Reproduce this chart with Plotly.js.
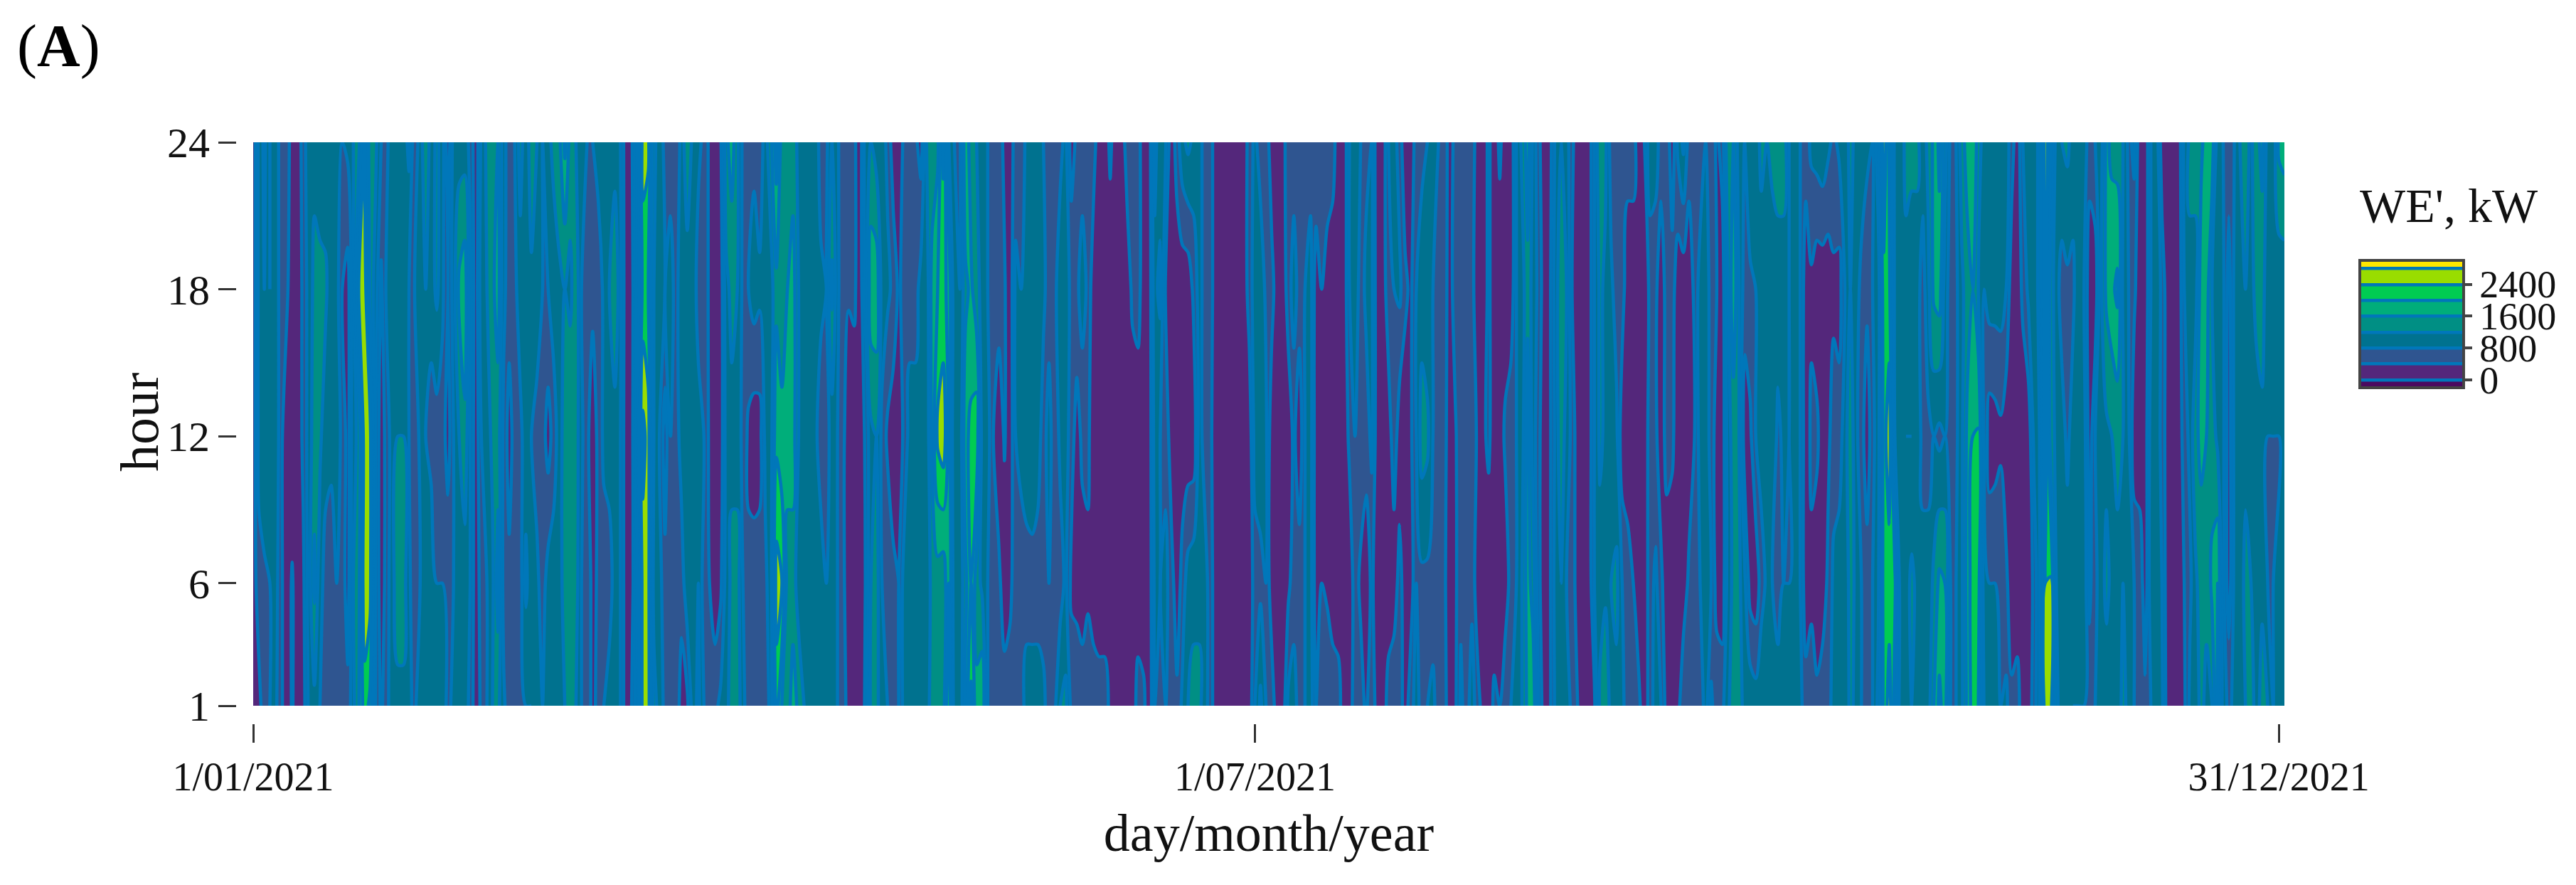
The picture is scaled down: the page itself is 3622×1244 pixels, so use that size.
<!DOCTYPE html>
<html><head><meta charset="utf-8">
<script src="https://cdn.plot.ly/plotly-3.0.1.min.js"></script>
<style>html,body{margin:0;padding:0;background:#fff}</style></head>
<body><div id="chart" style="width:3622px;height:1244px"></div>
<script>
const hours=[24,18,12,6,1];
const tickDays=[0,180,364];
const tickDates=["1/01/2021","1/07/2021","31/12/2021"];
const hourTicks=[1,6,12,18,24];
const levelColors=["#4b0a5f","#54277b","#2f5590","#00728f","#008f84","#00ae7a","#00cc52","#99dd00","#ffe600"];
// each entry: WE' (kW) of one day at hours 24,18,12,6,1
const winterA=[[100,100,100,100,100],[900,900,900,700,200],[1300,1200,1200,700,700],[800,800,900,800,800],[1200,1200,1200,1000,900],[500,500,500,500,500],[700,500,100,100,100],[100,100,100,450,450],[100,100,100,100,100],[600,500,500,300,200],[1100,1000,1000,1000,900],[1100,1300,1400,1700,1100],[1000,1300,1300,900,800],[900,1300,900,700,600],[1200,900,900,600,600],[1200,1000,1000,800,600],[800,400,700,600,500],[900,200,200,200,500],[1200,1100,1100,1200,1100],[1500,2500,1300,1500,1600],[2450,2700,2700,2750,2200],[1300,1500,2600,2600,1900],[1300,1000,800,800,800],[800,300,100,100,300],[700,900,600,600,700],[1100,1100,1000,1100,1000],[1200,1100,1200,1400,1100],[1000,1000,1200,1400,1100],[1300,800,800,900,900],[500,800,500,500,700],[1000,1200,900,800,1100],[1500,1200,800,1100,1100],[1000,1000,600,1200,1100],[1300,1300,600,800,900],[1000,900,600,800,1000],[100,400,200,700,700],[1000,1000,800,800,900],[1000,1700,1200,1000,1100],[1000,1900,1500,1000,1000],[700,900,800,800,700],[100,100,100,100,100],[900,1100,800,600,500],[1300,1200,1000,800,800],[1400,1500,1300,1100,1200],[1600,1800,1400,1800,1300],[1000,900,700,600,900],[500,600,200,500,500],[800,700,600,800,600],[1400,1000,700,600,700],[900,1200,1000,1300,800],[1500,1100,800,900,800],[1200,1100,600,900,900],[800,800,600,600,800]];
const winterB=[[1100,800,200,1000,1000],[1300,1000,600,1000,1100],[1500,1100,1000,1100,1000],[2100,1200,1400,1300,1200],[1400,1100,1500,1400,1500],[1200,1500,1400,1400,1200],[900,800,900,800,800],[800,700,500,800,600],[800,500,150,200,300],[1000,500,500,500,500],[900,900,900,600,800],[1200,1200,1000,600,1000],[1000,1600,1000,1000,900],[800,900,800,800,800],[100,100,100,100,100],[300,100,100,100,400],[1200,1300,1500,1200,1100],[2600,2100,2950,2600,2600],[2500,2000,2600,2600,2600],[1300,1200,1200,1000,1400],[1000,1000,800,1000,1000],[700,800,200,500,700],[700,900,800,700,800],[400,700,600,500,700],[1000,1000,1000,600,150],[1500,1000,1000,1100,300],[1100,1100,1000,1000,1000],[900,600,1000,1200,1300],[700,700,800,600,800],[300,300,300,400,800],[100,100,100,100,700],[300,100,100,300,900],[1500,1100,1000,1000,1000],[1800,1300,1100,1300,1500],[1300,1200,1000,1400,1500],[700,700,700,800,900],[500,800,300,500,600],[700,1000,150,600,600],[500,900,200,600,600],[1000,1000,900,700,600],[1500,1000,1000,1000,900],[2200,1500,1900,2600,2200],[1400,1400,1700,2450,1600],[1400,1600,1800,1400,1400],[1400,1800,1800,1400,1800],[1100,1200,1200,1000,1500],[900,1000,1000,1100,1200],[1000,1200,1000,1000,1000],[1100,1000,900,1200,1000],[600,900,600,1000,1000],[700,800,600,800,900],[1200,1700,1000,1000,1000]];
const spring=[[900,900,800,800,800],[400,500,500,500,500],[450,450,100,100,300],[500,500,100,100,100],[100,100,100,100,100],[1000,900,450,400,450],[1200,1900,1100,1200,1300],[1000,1900,1200,1400,1300],[1000,1000,700,800,1000],[700,900,300,800,800],[150,700,150,500,500],[150,300,150,400,400],[500,600,500,1000,1000],[500,600,1000,1000,1000],[500,600,1000,1000,1000],[200,1000,900,900,1000],[1200,900,900,1000,1100],[1300,1800,1700,1300,1300],[1500,2000,2500,1400,1300],[2500,2100,2700,1300,1400],[1200,1900,1900,2000,2400],[800,900,800,900,900],[700,800,900,900,900],[2000,1500,1900,1500,1700],[1300,1700,2100,2000,2500],[1200,1300,2300,1400,1700],[1100,1100,1000,1100,2000],[800,800,1000,800,800],[600,600,400,600,600],[600,600,100,500,600],[300,450,450,150,600],[150,100,100,300,600],[600,900,800,600,600],[600,800,1000,500,600],[900,900,1100,600,1000],[1100,1000,1200,600,1000],[1000,1000,1000,600,1000],[800,900,600,600,900],[600,600,1000,800,600],[700,700,500,600,700],[700,1000,900,600,1200],[900,1000,1000,900,1300],[200,700,600,300,700],[500,700,200,300,600],[600,1000,500,200,600],[500,700,500,300,700],[600,100,100,100,700],[100,100,100,100,600],[100,100,100,100,600],[500,100,100,100,300],[100,100,100,100,200],[100,100,100,100,100],[600,100,100,100,100]];
const summerA=[[600,500,100,100,100],[600,600,100,100,600],[100,100,100,100,500],[100,100,100,100,100],[1300,1100,1000,900,800],[1000,1300,800,800,800],[800,300,700,900,800],[100,100,100,600,800],[600,100,100,100,500],[1100,100,100,600,900],[1300,100,100,1000,1200],[1100,500,100,1100,1300],[1000,1000,1000,1100,1300],[600,600,600,1000,1000],[600,600,500,600,600],[100,100,100,100,100],[100,100,100,100,100],[100,100,100,100,100],[100,100,100,100,100],[100,100,100,100,100],[100,100,100,100,100],[600,600,100,100,100],[900,1000,1000,600,800],[600,1100,1000,700,1300],[700,700,900,800,800],[100,600,100,100,700],[100,100,100,100,100],[100,100,100,100,100],[800,600,100,300,900],[600,1000,500,600,1000],[700,600,100,600,600],[800,800,800,800,800],[600,1000,1000,1000,1000],[800,100,100,100,400],[600,400,100,400,600],[800,100,100,300,800],[600,100,100,200,600],[100,100,100,100,600],[100,100,100,100,100],[800,800,500,100,100],[1100,1100,800,600,700],[800,600,700,300,600],[700,900,600,100,300],[800,900,900,500,800],[100,100,100,100,100],[100,100,100,100,100],[800,700,100,100,600],[1000,800,700,100,800],[600,900,100,600,700],[100,500,100,100,100],[100,300,300,100,700],[600,800,800,800,900]];
const summerB=[[700,1000,1400,700,700],[800,900,1300,700,800],[1000,800,800,600,900],[800,800,800,800,600],[800,700,600,500,600],[100,100,100,100,100],[600,700,300,300,300],[800,800,800,700,900],[600,500,700,600,600],[700,450,800,700,1000],[100,300,300,100,600],[100,100,300,100,200],[500,500,500,100,100],[100,100,100,100,500],[500,100,100,100,400],[100,100,500,100,800],[100,100,700,600,800],[800,800,800,800,1000],[1300,1000,1000,1200,1200],[1800,1500,1800,1800,1700],[1100,1000,1000,1400,1900],[500,700,500,500,800],[100,100,100,100,100],[200,300,300,300,300],[900,1000,900,1000,900],[1200,1500,1500,1200,1100],[1000,1200,1000,800,1000],[500,400,700,700,700],[100,100,100,100,400],[100,100,100,100,100],[100,100,100,100,100],[800,800,800,800,300],[1600,1300,1300,1000,1300],[1300,1100,1100,1100,1600],[600,900,1000,1200,1000],[600,600,900,1300,1100],[600,600,100,800,900],[600,100,100,600,600],[600,100,100,400,800],[100,100,100,100,500],[400,100,100,100,100],[1100,500,600,600,600],[1000,500,500,900,1000],[600,100,100,500,800],[700,600,600,100,200],[100,600,500,100,400],[900,100,100,100,200],[1300,100,100,100,800],[600,100,100,500,600],[700,500,400,800,700],[500,1000,1000,800,500],[800,1100,1100,1000,1000]];
const autumn=[[700,600,600,800,300],[300,400,200,200,700],[600,100,100,100,700],[1500,1200,1000,1000,1100],[1600,1900,1400,1300,1500],[1000,1200,1200,1300,1600],[800,600,150,900,900],[1200,700,300,200,1100],[1000,800,800,100,1000],[1300,1000,1000,600,1200],[1200,1100,1100,900,1100],[1300,1000,1100,800,1000],[1400,1000,700,600,1000],[1500,900,900,800,1000],[800,800,800,800,1100],[1000,1000,1100,1100,1200],[800,800,800,800,900],[600,100,100,100,600],[900,300,500,300,600],[1000,100,500,100,500],[1100,100,100,100,700],[900,100,300,500,700],[700,300,600,900,900],[900,200,600,1000,800],[1000,800,1000,800,900],[1300,1200,1500,1400,1300],[1100,1100,900,1100,1100],[1200,600,600,800,800],[900,500,100,600,600],[800,800,700,800,800],[1500,900,1000,1100,1300],[2700,2300,2200,2200,2100],[1900,2100,2700,2200,2600],[1100,1100,1200,2100,1800],[1000,1000,900,1000,1000],[1300,1100,800,1000,1000],[1300,1000,800,1300,1200],[1300,1000,1000,1100,1100],[1000,600,700,900,1000],[1300,1100,700,900,1000],[1700,1700,800,1300,1600],[2100,1800,700,1700,2100],[1400,1000,800,1600,1800],[700,600,600,800,800],[800,700,700,800,800],[1400,1100,1100,1100,1100],[1800,1400,1700,1800,1700],[1800,1600,2000,2200,2200],[1500,1200,2100,2200,2000],[900,800,800,1000,1200],[800,1000,150,800,900],[1100,1000,200,800,900]];
const december=[[1200,1000,300,800,800],[1000,800,100,500,900],[600,100,100,100,500],[100,100,100,100,600],[800,500,100,100,100],[1200,900,100,100,100],[1000,1000,900,500,600],[1300,1300,1200,1200,1200],[2700,2700,2700,2400,2700],[2000,1400,1400,2500,2600],[1000,1000,1100,1200,1300],[1200,600,1000,1000,1000],[1300,700,700,1000,900],[1000,700,1000,1100,800],[800,1100,1100,1200,800],[1000,800,1000,1100,800],[600,100,150,300,600],[800,100,800,700,800],[1000,1100,1000,1000,900],[1700,1700,1100,1300,1000],[1500,1900,1200,1100,1100],[1400,2100,1300,1100,1000],[1200,1100,1200,1200,1300],[700,800,900,1000,1100],[900,500,100,800,800],[100,100,100,700,700],[100,100,150,100,500],[800,800,1000,1100,800],[1100,1100,1000,1000,1100],[100,700,700,800,900],[100,100,100,100,150],[100,100,100,100,100],[150,100,100,100,100],[900,800,600,400,300],[1300,1100,900,700,900],[1400,1000,1500,1100,1000],[1500,1800,1700,1400,1300],[1800,1800,1600,1300,1100],[1800,1200,1400,1700,1200],[1000,1000,1100,2000,2100],[800,900,900,900,1000],[600,200,150,150,700],[800,900,900,900,900],[1200,1000,1000,1000,800],[1400,1200,1100,1300,1200],[1100,1000,1000,1200,1400],[1500,1400,900,1100,1000],[1700,1400,1100,1100,1400],[1000,900,800,800,1200],[900,900,800,800,800],[1700,900,800,900,900],[1800,900,900,1000,1000]];

const days=[].concat(winterA,winterB,spring,summerA,summerB,autumn,december);
const rowOrder=hours.map((h,i)=>i).reverse();
const yHours=rowOrder.map(i=>hours[i]);
const z=rowOrder.map(i=>days.map(d=>d[i]));
const W=3622,H=1244;
const serif='"Liberation Serif","DejaVu Serif",serif';
Plotly.newPlot('chart',[{
  type:'contour',x:days.map((d,i)=>i),y:yHours,z:z,
  autocontour:false,
  contours:{start:0,end:2800,size:400,coloring:'fill',showlines:true},
  line:{color:'#0077ba',width:4.5,smoothing:0.8},
  colorscale:levelColors.map((c,i)=>[i/(levelColors.length-1),c]),
  zmin:-200,zmax:3000,
  colorbar:{
    thicknessmode:'pixels',thickness:146,lenmode:'pixels',len:179,
    x:3318/W,xanchor:'left',y:1-366/H,yanchor:'top',xpad:0,ypad:0,
    outlinecolor:'#444',outlinewidth:4,
    tickmode:'array',tickvals:[0,800,1600,2400],ticktext:['0','800','1600','2400'],
    ticks:'outside',ticklen:10,tickwidth:4,tickcolor:'#444',
    tickfont:{family:serif,size:54,color:'#111'}
  },
  hoverinfo:'skip'
}],{
  width:W,height:H,margin:{l:0,r:0,t:0,b:0},paper_bgcolor:'#fff',plot_bgcolor:'#fff',showlegend:false,
  xaxis:{domain:[356/W,3212/W],range:[0,365],anchor:'free',position:1-1017/H,
    tickmode:'array',tickvals:tickDays,ticktext:tickDates,ticks:'outside',ticklen:26,tickwidth:3,tickcolor:'#333',
    showgrid:false,zeroline:false,showline:false,tickfont:{family:serif,size:56,color:'#111'},
    title:{text:'day/month/year',font:{family:serif,size:74,color:'#111'},standoff:21}},
  yaxis:{domain:[1-992/H,1-200/H],range:[1,24],anchor:'free',position:332/W,
    tickmode:'array',tickvals:hourTicks,ticks:'outside',ticklen:25,tickwidth:3,tickcolor:'#333',
    showgrid:false,zeroline:false,showline:false,tickfont:{family:serif,size:60,color:'#111'}},
  annotations:[
    {text:'(<b>A</b>)',xref:'paper',yref:'paper',x:22/W,y:1-65/H,xanchor:'left',yanchor:'middle',showarrow:false,font:{family:serif,size:84,color:'#000'}},
    {text:'hour',textangle:-90,xref:'paper',yref:'paper',x:196/W,y:1-594/H,xanchor:'center',yanchor:'middle',showarrow:false,font:{family:serif,size:76,color:'#111'}},
    {text:"WE', kW",xref:'paper',yref:'paper',x:3316/W,y:1-289/H,xanchor:'left',yanchor:'middle',showarrow:false,font:{family:serif,size:68,color:'#111'}}
  ]
},{displayModeBar:false});
</script></body></html>
